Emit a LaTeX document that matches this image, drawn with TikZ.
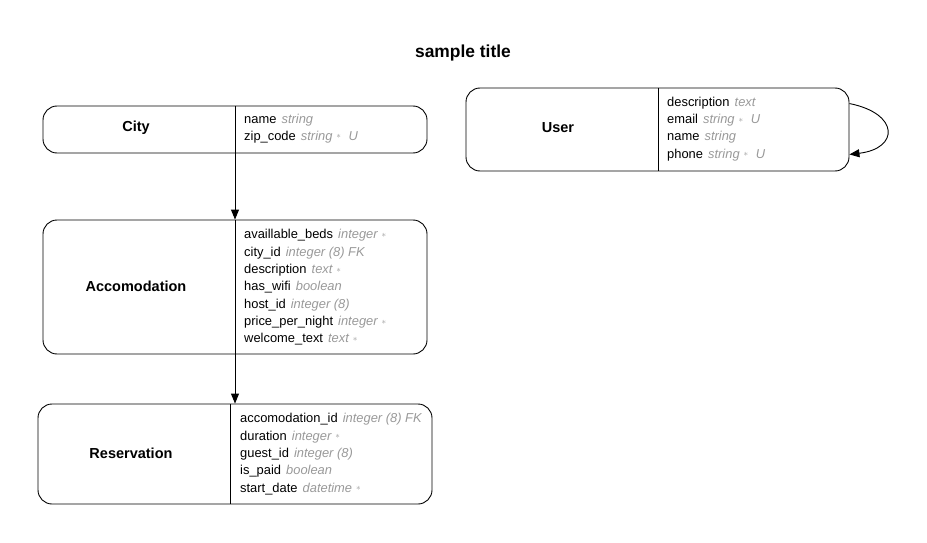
\documentclass[tikz,border=0pt]{standalone}
\usepackage{fontspec}
\setmainfont{Liberation Sans}
\usetikzlibrary{arrows.meta}
\definecolor{typegrey}{HTML}{999999}
\tikzset{
  entbox/.style={draw=black, line width=0.9pt, rounded corners=14pt, inner sep=0pt},
  entlabel/.style={font=\fontsize{14.5}{16}\selectfont\bfseries, inner sep=0pt},
  fieldtxt/.style={font=\fontsize{12.9}{15}\selectfont, anchor=base west, inner sep=0pt},
  divider/.style={line width=0.9pt},
  rel/.style={line width=0.9pt, -{Triangle[length=10pt,width=8pt]}}
}
\newcommand{\ty}[1]{\hspace{1.5pt}{\color{typegrey}\itshape #1}}
\newcommand{\st}{\hspace{4pt}{\color{typegrey}\raisebox{1.2pt}{$\scriptstyle\ast$}}}
\begin{document}
\begin{tikzpicture}[x=1pt,y=-1pt]
\useasboundingbox (0,0) rectangle (927,543);
\node[font=\fontsize{17.4}{20}\selectfont\bfseries, inner sep=0pt, anchor=base] (title) at (463,58) {sample title};

% City
\node[entbox, minimum width=384pt, minimum height=47pt] (city) at (235,129.5) {};
\draw[divider] (235,106) -- (235,153);
\node[entlabel] (cityl) at (136,128) {City};
\node[fieldtxt] (c1) at (244,123.2) {name \ty{string}};
\node[fieldtxt] (c2) at (244,140.2) {zip\_code \ty{string}\st\hspace{6pt}\ty{U}};

% User
\node[entbox, minimum width=383pt, minimum height=83pt] (user) at (657.5,129.5) {};
\draw[divider] (658,88) -- (658,171);
\node[entlabel] (userl) at (558,128) {User};
\node[fieldtxt] (u1) at (667,106.3) {description \ty{text}};
\node[fieldtxt] (u2) at (667,123.6) {email \ty{string}\st\hspace{6pt}\ty{U}};
\node[fieldtxt] (u3) at (667,140.9) {name \ty{string}};
\node[fieldtxt] (u4) at (667,158.2) {phone \ty{string}\st\hspace{6pt}\ty{U}};

% Accomodation
\node[entbox, minimum width=384pt, minimum height=134pt] (acc) at (235,287) {};
\draw[divider] (235,220) -- (235,354);
\node[entlabel] (accl) at (136,286) {Accomodation};
\node[fieldtxt] (a1) at (244,238.8) {availlable\_beds \ty{integer}\st};
\node[fieldtxt] (a2) at (244,256.1) {city\_id \ty{integer (8) FK}};
\node[fieldtxt] (a3) at (244,273.4) {description \ty{text}\st};
\node[fieldtxt] (a4) at (244,290.7) {has\_wifi \ty{boolean}};
\node[fieldtxt] (a5) at (244,308.0) {host\_id \ty{integer (8)}};
\node[fieldtxt] (a6) at (244,325.3) {price\_per\_night \ty{integer}\st};
\node[fieldtxt] (a7) at (244,342.6) {welcome\_text \ty{text}\st};

% Reservation
\node[entbox, minimum width=394pt, minimum height=100pt] (res) at (235,454) {};
\draw[divider] (230,404) -- (230,504);
\node[entlabel] (resl) at (131,453) {Reservation};
\node[fieldtxt] (r1) at (240,422.8) {accomodation\_id \ty{integer (8) FK}};
\node[fieldtxt] (r2) at (240,440.1) {duration \ty{integer}\st};
\node[fieldtxt] (r3) at (240,457.4) {guest\_id \ty{integer (8)}};
\node[fieldtxt] (r4) at (240,474.7) {is\_paid \ty{boolean}};
\node[fieldtxt] (r5) at (240,492.0) {start\_date \ty{datetime}\st};

% relations
\draw[rel] (city.south) -- (acc.north);
\draw[rel] (acc.south) -- (res.north);
\coordinate (uo) at ([yshift=-16pt]user.north east);
\coordinate (ui) at ([yshift=17pt]user.south east);
\draw[rel] (uo) .. controls +(50,10) and +(50,-6) .. (ui);
\end{tikzpicture}
\end{document}
